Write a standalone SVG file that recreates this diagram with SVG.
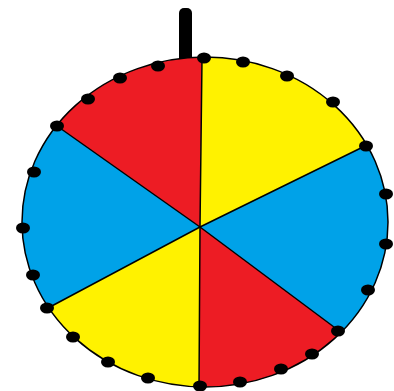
<svg xmlns="http://www.w3.org/2000/svg" width="394" height="391" viewBox="0 0 394 391">
<style>
.red{fill:#ED1C24}.yel{fill:#FFF200}.blu{fill:#00A2E8}
.ln{stroke:#000;stroke-width:1.5;fill:none}
.dot{fill:#000}
</style>
<defs>
<clipPath id="wc"><ellipse cx="205" cy="222" rx="183" ry="165"/></clipPath>
</defs>
<rect width="394" height="391" fill="#fff"/>
<g id="handle"><rect x="179" y="8" width="13" height="56" rx="5" fill="#000"/></g>
<g id="wheel">
<g clip-path="url(#wc)">
<polygon id="s1" class="red" points="200,227 -86,25 100,-200 204,-109"/>
<polygon id="s2" class="yel" points="200,227 204,-109 400,-100 530,65"/>
<polygon id="s3" class="blu" points="200,227 530,65 700,230 476,433"/>
<polygon id="s4" class="red" points="200,227 476,433 300,700 198,547"/>
<polygon id="s5" class="yel" points="200,227 198,547 0,600 -104,389"/>
<polygon id="s6" class="blu" points="200,227 -104,389 -300,230 -86,25"/>
</g>
<ellipse class="ln" cx="205" cy="222" rx="183" ry="165"/>
<g id="connectors">
<polyline class="ln" points="202,59 200,227 199,387"/>
<polyline class="ln" points="57,126 200,227 338,330"/>
<polyline class="ln" points="48,308 200,227 365,146"/>
</g>
</g>
<g id="pegs" class="dot">
<ellipse cx="204" cy="58" rx="7" ry="5.5"/>
<ellipse cx="243" cy="62" rx="7" ry="5.5"/>
<ellipse cx="287" cy="76" rx="7" ry="5.5"/>
<ellipse cx="333" cy="102" rx="7" ry="5.5"/>
<ellipse cx="366" cy="146" rx="7" ry="5.5"/>
<ellipse cx="386" cy="194" rx="7" ry="5.5"/>
<ellipse cx="386" cy="244" rx="7" ry="5.5"/>
<ellipse cx="368" cy="290" rx="7" ry="5.5"/>
<ellipse cx="338" cy="331" rx="7" ry="5.5"/>
<ellipse cx="312" cy="354" rx="7" ry="5.5"/>
<ellipse cx="281" cy="369" rx="7" ry="5.5"/>
<ellipse cx="240" cy="382" rx="7" ry="5.5"/>
<ellipse cx="200" cy="386" rx="7" ry="5.5"/>
<ellipse cx="148" cy="378" rx="7" ry="5.5"/>
<ellipse cx="108" cy="362" rx="7" ry="5.5"/>
<ellipse cx="73" cy="337" rx="7" ry="5.5"/>
<ellipse cx="47" cy="308" rx="7" ry="5.5"/>
<ellipse cx="33" cy="275" rx="7" ry="5.5"/>
<ellipse cx="23" cy="228" rx="7" ry="5.5"/>
<ellipse cx="34" cy="172" rx="7" ry="5.5"/>
<ellipse cx="57" cy="126" rx="7" ry="5.5"/>
<ellipse cx="88" cy="99" rx="7" ry="5.5"/>
<ellipse cx="120" cy="78" rx="7" ry="5.5"/>
<ellipse cx="158" cy="66" rx="7" ry="5.5"/>
</g>
</svg>
